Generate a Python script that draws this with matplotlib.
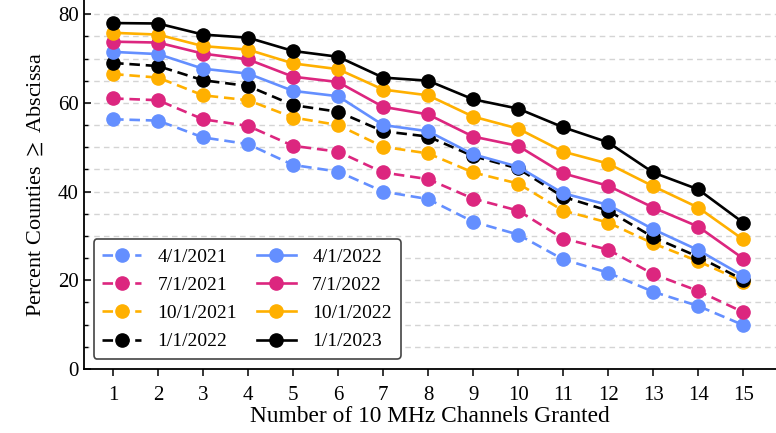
#!/usr/bin/env python3
import matplotlib
matplotlib.use('Agg')
import matplotlib.pyplot as plt
from matplotlib.ticker import MultipleLocator

channels = list(range(1, 16))

# percent of counties with at least N channels granted, per snapshot date
pct_2021_04 = [56.3, 56.0, 52.2, 50.7, 46.0, 44.5, 40.0, 38.3, 33.2, 30.3, 24.7, 21.7, 17.4, 14.2, 9.9]
pct_2021_07 = [61.0, 60.6, 56.3, 54.8, 50.3, 49.0, 44.3, 42.8, 38.4, 35.7, 29.4, 26.9, 21.4, 17.6, 12.8]
pct_2021_10 = [66.5, 65.7, 61.7, 60.6, 56.7, 55.0, 50.1, 48.6, 44.3, 41.8, 35.7, 33.0, 28.3, 24.3, 19.7]
pct_2022_01 = [69.0, 68.3, 65.1, 63.8, 59.5, 58.0, 53.6, 52.4, 48.0, 45.2, 38.8, 35.7, 29.7, 25.3, 20.1]
pct_2022_04 = [71.5, 71.0, 67.7, 66.6, 62.7, 61.5, 55.0, 53.6, 48.4, 45.6, 39.6, 37.0, 31.5, 26.8, 21.0]
pct_2022_07 = [73.8, 73.6, 71.1, 69.8, 65.9, 64.7, 59.1, 57.4, 52.4, 50.3, 44.1, 41.3, 36.4, 32.1, 24.9]
pct_2022_10 = [75.8, 75.4, 72.8, 72.0, 68.9, 67.6, 63.0, 61.7, 56.9, 54.2, 49.0, 46.3, 41.2, 36.4, 29.2]
pct_2023_01 = [78.0, 77.9, 75.4, 74.7, 71.7, 70.4, 65.7, 65.0, 60.8, 58.7, 54.5, 51.1, 44.3, 40.5, 33.0]

BLUE = '#648FFF'
PINK = '#DC267F'
GOLD = '#FFB000'
BLACK = '#000000'

series = [
    ('4/1/2021', pct_2021_04, BLUE, '--'),
    ('7/1/2021', pct_2021_07, PINK, '--'),
    ('10/1/2021', pct_2021_10, GOLD, '--'),
    ('1/1/2022', pct_2022_01, BLACK, '--'),
    ('4/1/2022', pct_2022_04, BLUE, '-'),
    ('7/1/2022', pct_2022_07, PINK, '-'),
    ('10/1/2022', pct_2022_10, GOLD, '-'),
    ('1/1/2023', pct_2023_01, BLACK, '-'),
]


def main():
    plt.rcParams['font.family'] = ['Liberation Serif', 'DejaVu Serif']
    plt.rcParams['mathtext.fontset'] = 'stix'

    fig = plt.figure(figsize=(7.76, 4.33), dpi=100)
    ax = fig.add_axes([0.108, 0.148, 0.892, 0.852])

    for label, vals, color, ls in series:
        ax.plot(channels, vals, linestyle=ls, color=color, marker='o',
                markersize=9.5, linewidth=1.9, label=label,
                dashes=(4, 2.2) if ls == '--' else (None, None))

    ax.set_xlim(0.35, 15.73)
    ax.set_ylim(0, 83.2)
    ax.set_xticks(channels)
    ax.yaxis.set_major_locator(MultipleLocator(20))
    ax.yaxis.set_minor_locator(MultipleLocator(5))
    ax.grid(which='both', axis='y', color='#d4d4d4', linestyle=(0, (4, 3)), linewidth=1.0)
    ax.set_axisbelow(True)

    for side in ('top', 'right'):
        ax.spines[side].set_visible(False)
    for side in ('left', 'bottom'):
        ax.spines[side].set_linewidth(1.3)

    ax.tick_params(axis='y', which='major', direction='in', length=5, width=1.1, labelsize=15)
    ax.tick_params(axis='y', which='minor', direction='in', length=3, width=1.0)
    ax.tick_params(axis='x', which='major', direction='out', length=5, width=1.1,
                   labelsize=15, pad=7)

    ax.set_xlabel('Number of 10 MHz Channels Granted', fontsize=16.8, labelpad=1)
    ax.set_ylabel(r'Percent Counties $\geq$ Abscissa', fontsize=16, labelpad=9)

    leg = ax.legend(loc='lower left', ncol=2, fontsize=14, frameon=True,
                    fancybox=True, edgecolor='#444444', framealpha=1.0,
                    handlelength=2.0, handletextpad=0.85, columnspacing=1.0,
                    borderpad=0.45, labelspacing=0.55,
                    bbox_to_anchor=(0.0, 0.0))
    leg.get_frame().set_linewidth(1.2)

    fig.savefig('out.png', dpi=100)


if __name__ == '__main__':
    main()
